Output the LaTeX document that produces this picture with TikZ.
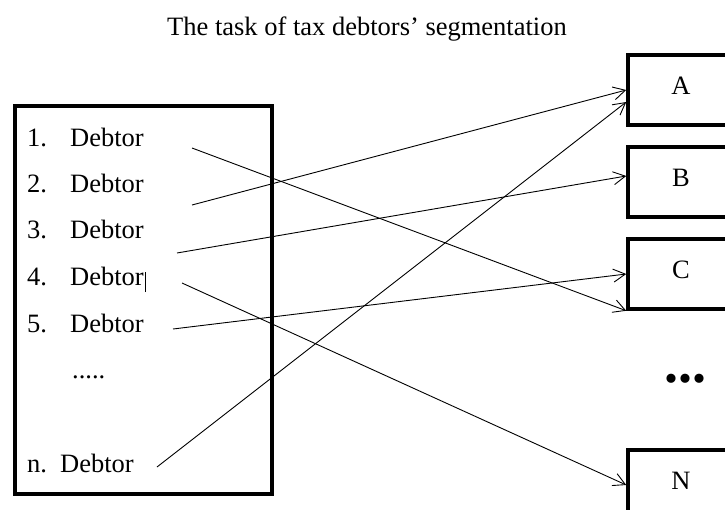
\documentclass[tikz,border=0pt]{standalone}
\usepackage{fontspec}
\setmainfont{Liberation Serif}
\usetikzlibrary{arrows.meta,positioning,calc}

\begin{document}
\begin{tikzpicture}[x=1pt, y=-1pt,
  every node/.style={font=\fontsize{26.5}{30}\selectfont},
  item/.style={anchor=base west, inner sep=0pt},
  segbox/.style={draw, line width=3.5pt, minimum width=106pt, minimum height=70pt, inner sep=0pt, text depth=8pt},
  link/.style={line width=0.9pt, -{Straight Barb[length=12pt, width=13pt]}}]
  \useasboundingbox (0,0) rectangle (725,509);
  \clip (0,0) rectangle (725,509);

  % Title
  \node[anchor=base] (title) at (367,35) {The task of tax debtors’ segmentation};

  % Debtors list
  \node[draw, line width=3.5pt, minimum width=257pt, minimum height=388pt] (list) at (143.5,300) {};
  \foreach \i/\y in {1/146, 2/192, 3/238, 4/285, 5/332} {
    \node[item] (num\i) at (27,\y) {\i.};
    \node[item] (deb\i) at (70,\y) {Debtor};
  }
  \draw[line width=0.8pt] ([xshift=1pt, yshift=-7pt]deb4.base east) -- ++(0,-20);
  \node[item] (ldots) at (72,378) {.....};
  \node[item] (numn) at (27,472) {n.};
  \node[item] (debn) at (60,472) {Debtor};

  % Segments
  \node[segbox] (A) at (681,90) {A};
  \node[segbox] (B) at (681,182) {B};
  \node[segbox] (C) at (681,274) {C};
  \node[segbox] (N) at (681,485) {N};
  \node[font=\fontsize{56}{56}\selectfont\bfseries] (more) at (685,379) {...};

  % Links
  \coordinate (s1) at (192,148);
  \coordinate (s2) at (192,205);
  \coordinate (s3) at (177,253);
  \coordinate (s4) at (182,283);
  \coordinate (s5) at (173,329);
  \coordinate (sn) at (157,467);
  \draw[link] (s1) -- (C.south west);
  \draw[link] (s2) -- (A.west);
  \draw[link] (s3) -- ([yshift=6pt]B.west);
  \draw[link] (s4) -- (N.west);
  \draw[link] (s5) -- (C.west);
  \draw[link] (sn) -- ([yshift=-12pt]A.west);
\end{tikzpicture}
\end{document}
